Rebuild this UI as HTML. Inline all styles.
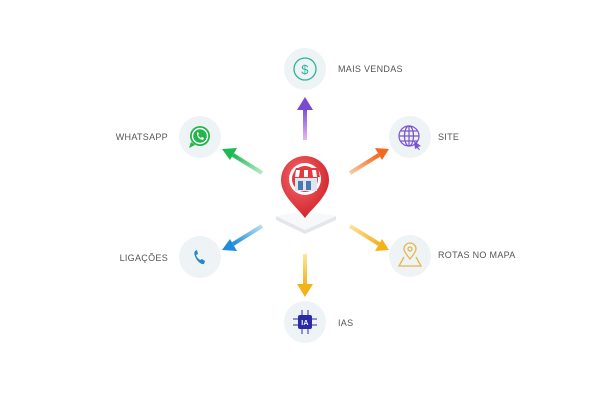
<!DOCTYPE html>
<html><head><meta charset="utf-8"><style>
html,body{margin:0;padding:0;background:#fff;}
svg{display:block}
text{font-family:"Liberation Sans",sans-serif;font-size:9px;fill:#555;letter-spacing:0.3px}
</style></head><body>
<svg width="612" height="408" viewBox="0 0 612 408" xmlns="http://www.w3.org/2000/svg">
<defs>
<linearGradient id="gp" x1="0" y1="1" x2="0" y2="0"><stop offset="0" stop-color="#e9b6ef"/><stop offset="1" stop-color="#7a4bd1"/></linearGradient>
<linearGradient id="gy" x1="0" y1="0" x2="0" y2="1"><stop offset="0" stop-color="#fbe79a"/><stop offset="1" stop-color="#f3b21a"/></linearGradient>
<linearGradient id="gg" x1="1" y1="1" x2="0" y2="0"><stop offset="0" stop-color="#b7ebc4"/><stop offset="1" stop-color="#1db954"/></linearGradient>
<linearGradient id="go" x1="0" y1="1" x2="1" y2="0"><stop offset="0" stop-color="#fbc9a0"/><stop offset="1" stop-color="#f16a1f"/></linearGradient>
<linearGradient id="gb" x1="1" y1="0" x2="0" y2="1"><stop offset="0" stop-color="#b8def5"/><stop offset="1" stop-color="#1f8ed8"/></linearGradient>
<linearGradient id="gy2" x1="0" y1="0" x2="1" y2="1"><stop offset="0" stop-color="#fbe3a0"/><stop offset="1" stop-color="#f3b21a"/></linearGradient>
<radialGradient id="pin" cx="0.4" cy="0.35" r="0.7"><stop offset="0" stop-color="#f46a6a"/><stop offset="1" stop-color="#d0202a"/></radialGradient>
</defs>
<g fill="#eef3f6">
<circle cx="305" cy="69" r="21"/><circle cx="200" cy="137" r="21"/><circle cx="410" cy="137" r="21"/>
<circle cx="200" cy="257" r="21"/><circle cx="410" cy="256" r="21"/><circle cx="305" cy="322" r="21"/>
</g>
<g stroke-linecap="butt">
<rect x="303" y="108" width="4" height="32" fill="url(#gp)"/>
<polygon points="305,97 297,110 313,110" fill="#7a4bd1"/>
<rect x="303" y="254" width="4" height="32" fill="url(#gy)"/>
<polygon points="305,297 297,284 313,284" fill="#f3b21a"/>
<line x1="262" y1="173" x2="233" y2="155" stroke="url(#gg)" stroke-width="4"/>
<polygon points="222,149 237,148 230,160" fill="#1db954"/>
<line x1="350" y1="173" x2="379" y2="155" stroke="url(#go)" stroke-width="4"/>
<polygon points="389,149 375,148 382,160" fill="#f16a1f"/>
<line x1="262" y1="226" x2="233" y2="244" stroke="url(#gb)" stroke-width="4"/>
<polygon points="222,250 230,239 237,251" fill="#1f8ed8"/>
<line x1="350" y1="226" x2="379" y2="244" stroke="url(#gy2)" stroke-width="4"/>
<polygon points="389,250 382,239 375,251" fill="#f3b21a"/>
</g>
<polygon points="276,216 305,230 336,216 336,220 305,234 276,220" fill="#e4e6ea"/>
<polygon points="276,216 305,230 336,216 305,211" fill="#f7f8fa"/>
<path d="M305,218 C298,208 281,196 281,180 A24,24 0 1 1 329,180 C329,196 312,208 305,218Z" fill="url(#pin)"/>
<circle cx="305" cy="179" r="16" fill="#fff"/>
<circle cx="305" cy="179" r="13" fill="#e23a3f"/>
<rect x="295" y="178" width="22" height="13" fill="#dfe6ee"/>
<rect x="298" y="181" width="5" height="9" fill="#4a78b0"/><rect x="306" y="181" width="5" height="9" fill="#4a78b0"/>
<path d="M292,177 L296,168 L318,168 L320,177 Z" fill="#e23a3f"/>
<path d="M296,170 h4 l-1,7 h-4z M304,170 h4 v7 h-4z M312,170 h4 l1,7 h-4z" fill="#fff"/>
<circle cx="305" cy="69" r="11" fill="none" stroke="#2bb39a" stroke-width="1.3"/>
<text x="305" y="74" text-anchor="middle" style="font-size:13px;fill:#2bb39a">$</text>
<circle cx="200" cy="136" r="10" fill="#25b54a"/>
<polygon points="191,142 189,148 195,145" fill="#25b54a"/>
<circle cx="200" cy="136" r="7.5" fill="none" stroke="#fff" stroke-width="1.4"/>
<path d="M197,133 q0,6 6,7 l1,-2 -2,-1 -1,1 q-2,-1 -3,-3 l1,-1 -1,-2z" fill="#fff"/>
<g fill="none" stroke="#7b55c9" stroke-width="1.2">
<circle cx="409" cy="136" r="10"/><ellipse cx="409" cy="136" rx="4.5" ry="10"/>
<line x1="399" y1="136" x2="419" y2="136"/><line x1="409" y1="126" x2="409" y2="146"/>
<line x1="401" y1="131" x2="417" y2="131"/><line x1="401" y1="141" x2="417" y2="141"/>
</g>
<polygon points="414,141 421,146 418,147 420,150 419,150 417,148 415,149" fill="#7b55c9"/>
<path d="M195,251 q-2,3 2,9 q4,5 7,4 l1,-3 -3,-2 -2,1 q-3,-2 -4,-5 l2,-1 -1,-4z" fill="#2b86c9"/>
<g fill="none" stroke="#e7b54a" stroke-width="1.3">
<path d="M410,259 c-3,-4 -6,-7 -6,-10 a6,6 0 0 1 12,0 c0,3 -3,6 -6,10z"/><circle cx="410" cy="249" r="2"/>
<path d="M404,257 L399,266 L421,266 L416,257"/>
</g>
<rect x="298" y="315" width="14" height="14" rx="2" fill="#2a2aa8"/>
<text x="305" y="325" text-anchor="middle" style="font-size:7px;fill:#fff;font-weight:bold">IA</text>
<g stroke="#2a2aa8" stroke-width="1">
<line x1="293" y1="319" x2="298" y2="319"/><line x1="293" y1="325" x2="298" y2="325"/>
<line x1="312" y1="319" x2="317" y2="319"/><line x1="312" y1="325" x2="317" y2="325"/>
<line x1="302" y1="310" x2="302" y2="315"/><line x1="308" y1="310" x2="308" y2="315"/>
<line x1="302" y1="329" x2="302" y2="334"/><line x1="308" y1="329" x2="308" y2="334"/>
</g>
<text x="338" y="72">MAIS VENDAS</text>
<text x="438" y="140">SITE</text>
<text x="438" y="258">ROTAS NO MAPA</text>
<text x="338" y="326">IAS</text>
<text x="168" y="140" text-anchor="end">WHATSAPP</text>
<text x="168" y="261" text-anchor="end">LIGAÇÕES</text>
</svg>
</body></html>
